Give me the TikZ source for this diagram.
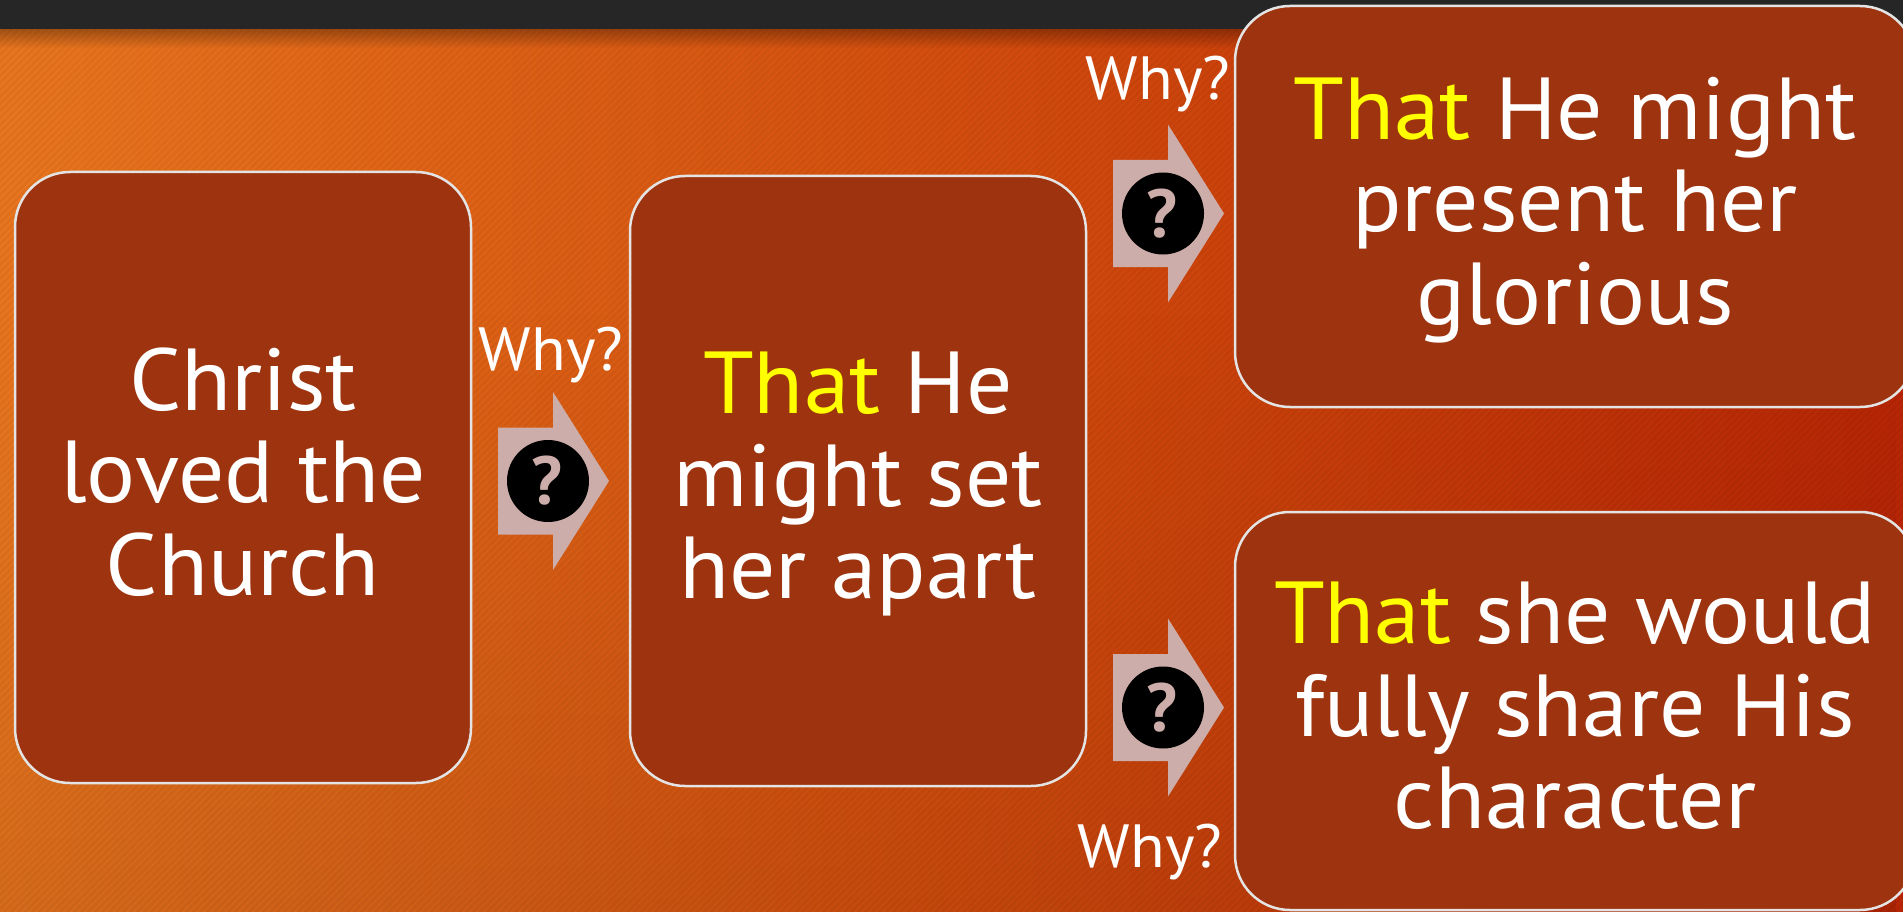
\documentclass[tikz,border=0pt]{standalone}
\usepackage{fontspec}
\setmainfont[FakeStretch=1.04]{PT Sans}
\newfontfamily\qfont{PT Sans}
\usetikzlibrary{fadings}
\definecolor{barc}{RGB}{38,38,38}
\definecolor{bgL}{RGB}{233,118,31}
\definecolor{bgM}{RGB}{212,78,14}
\definecolor{bgR}{RGB}{184,38,6}
\definecolor{boxc}{RGB}{157,52,15}
\definecolor{edgec}{RGB}{228,228,228}
\definecolor{arrowc}{RGB}{205,173,169}
\definecolor{hl}{RGB}{255,255,0}
\newcommand\ls{\rule[-21pt]{0pt}{92.5pt}}
\begin{document}
\begin{tikzpicture}[x=1pt,y=-1pt,
  box/.style={draw=edgec, line width=2.5pt, fill=boxc, rounded corners=55pt,
    inner sep=0pt, align=center, text=white, font=\fontsize{88}{92.5}\selectfont},
  whylbl/.style={text=white, inner sep=0pt, font=\fontsize{61}{61}\selectfont},
  whyarrow/.pic={
    \fill[arrowc] (0,-53.5) -- (55,-53.5) -- (55,-89) -- (111,0) -- (55,89) -- (55,53.5) -- (0,53.5) -- cycle;
    \fill[black] (50,0) circle (41pt);
    \node[font=\qfont\bfseries\fontsize{68}{68}\selectfont, text=arrowc, inner sep=0pt] (-q) at (49,0) {?};
  }]
\useasboundingbox (0,0) rectangle (1903,912);
% background
\shade[left color=bgL, right color=bgR, middle color=bgM] (0,0) rectangle (1903,912);
\fill[black, opacity=0.08, path fading=north] (0,300) rectangle (1903,912);
\begin{scope}
  \clip (0,0) rectangle (1903,912);
  \foreach \i in {-920,-913,...,1903} {
    \draw[black, opacity=0.045, line width=2.5pt] (\i,912) -- (\i+912,0);
  }
\end{scope}
% top bar and its shadow
\fill[black, opacity=0.3, path fading=south] (0,29) rectangle (1903,48);
\fill[barc] (0,0) rectangle (1903,29);
% boxes
\node[box, minimum width=456pt, minimum height=611pt] (b1) at (243,477.5)
  {\ls Christ\\\ls loved the\\\ls Church};
\node[box, minimum width=456pt, minimum height=610pt] (b2) at (858,481)
  {\ls{\color{hl}That} He\\\ls might set\\\ls her apart};
\node[box, minimum width=680pt, minimum height=401pt] (b3) at (1575,206.5)
  {\ls{\color{hl}That} He might\\\ls present her\\\ls glorious};
\node[box, minimum width=680pt, minimum height=398pt] (b4) at (1575,711)
  {\ls{\color{hl}That} she would\\\ls fully share His\\\ls character};
% arrows
\pic (a1) at (498,481) {whyarrow};
\pic (a2) at (1113,213.5) {whyarrow};
\pic (a3) at (1113,707.5) {whyarrow};
% labels
\node[whylbl, anchor=base] (w1) at (551,370) {Why?};
\node[whylbl, anchor=base] (w2) at (1158,100) {Why?};
\node[whylbl, anchor=base] (w3) at (1150,867) {Why?};
\end{tikzpicture}
\end{document}
